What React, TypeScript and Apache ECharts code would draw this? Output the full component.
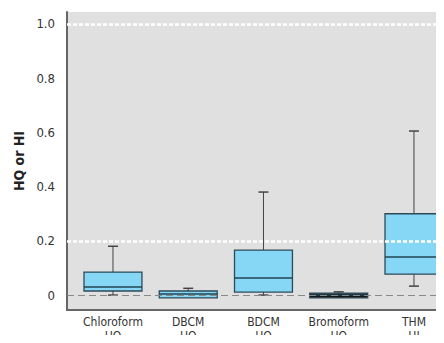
import React, { useEffect, useRef } from "react";
import * as echarts from "echarts";

const categories = ["Chloroform\nHQ", "DBCM\nHQ", "BDCM\nHQ", "Bromoform\nHQ", "THM\nHI"];
const mins = [0.0, 0.0, 0.0, -0.008, 0.033];
const q1s = [0.015, -0.01, 0.011, -0.01, 0.077];
const medians = [0.03, 0.004, 0.063, 0.0, 0.14];
const q3s = [0.085, 0.015, 0.166, 0.007, 0.3];
const maxs = [0.18, 0.025, 0.38, 0.012, 0.605];
const boxColors = ["#86d6f6", "#86d6f6", "#86d6f6", "#151515", "#86d6f6"];
const tickValues = [0, 0.2, 0.4, 0.6, 0.8, 1.0];
const tickLabels = ["0", "0.2", "0.4", "0.6", "0.8", "1.0"];
const refLines = [1.0, 0.2];
const zeroLine = 0;

const FONT = '"Liberation Sans Narrow", "DejaVu Sans Condensed", "Arial Narrow", sans-serif';

export default function App() {
  const ref = useRef<HTMLDivElement>(null);
  useEffect(() => {
    if (!ref.current) return;
    const chart = echarts.init(ref.current, null, { renderer: "svg" });
    const data = categories.map((_, i) => [i + 1, mins[i], q1s[i], medians[i], q3s[i], maxs[i]]);
    chart.setOption({
      animation: false,
      grid: {
        left: 67,
        right: 0,
        top: 12,
        bottom: 33,
        show: true,
        backgroundColor: "#e0e0e0",
        borderWidth: 0,
        containLabel: false,
        outerBoundsMode: "none",
      },
      xAxis: {
        type: "value",
        min: 0.389,
        max: 5.399,
        splitLine: { show: false },
        axisTick: { show: false },
        axisLine: { show: true, onZero: false, lineStyle: { color: "#666", width: 2 } },
        axisLabel: {
          color: "#333",
          fontFamily: FONT,
          fontSize: 12,
          lineHeight: 14,
          margin: 5,
          showMinLabel: false,
          showMaxLabel: false,
          formatter: (v: number) => {
            const r = Math.round(v);
            if (Math.abs(v - r) > 1e-6 || r < 1 || r > categories.length) return "";
            return categories[r - 1];
          },
        },
      },
      yAxis: {
        type: "value",
        min: -0.055,
        max: 1.044,
        name: "HQ or HI",
        nameLocation: "middle",
        nameGap: 39,
        nameTextStyle: { fontFamily: FONT, fontSize: 14, fontWeight: "bold", color: "#222" },
        splitLine: { show: false },
        axisTick: { show: false },
        axisLine: { show: true, onZero: false, lineStyle: { color: "#666", width: 2 } },
        axisLabel: {
          color: "#333",
          fontFamily: FONT,
          fontSize: 13,
          margin: 12,
          formatter: (v: number) => {
            const i = tickValues.findIndex((t) => Math.abs(t - v) < 1e-6);
            return i >= 0 ? tickLabels[i] : "";
          },
        },
      },
      series: [
        {
          type: "custom",
          data,
          encode: { x: 0, y: [1, 2, 3, 4, 5] },
          renderItem: (params: any, api: any) => {
            const x = api.value(0);
            const idx = params.dataIndex;
            const pMin = api.coord([x, api.value(1)]);
            const pQ1 = api.coord([x, api.value(2)]);
            const pMed = api.coord([x, api.value(3)]);
            const pQ3 = api.coord([x, api.value(4)]);
            const pMax = api.coord([x, api.value(5)]);
            const w = api.size([0.77, 0])[0];
            const cx = pMed[0];
            const cap = 5;
            const lineStyle = { stroke: "#444", lineWidth: 1 };
            return {
              type: "group",
              children: [
                { type: "line", shape: { x1: cx, y1: pQ3[1], x2: cx, y2: pMax[1] }, style: lineStyle },
                { type: "line", shape: { x1: cx - cap, y1: pMax[1], x2: cx + cap, y2: pMax[1] }, style: { stroke: "#444", lineWidth: 1.5 } },
                { type: "line", shape: { x1: cx, y1: pQ1[1], x2: cx, y2: pMin[1] }, style: lineStyle },
                { type: "line", shape: { x1: cx - cap, y1: pMin[1], x2: cx + cap, y2: pMin[1] }, style: { stroke: "#444", lineWidth: 1.5 } },
                {
                  type: "rect",
                  shape: { x: cx - w / 2, y: pQ3[1], width: w, height: pQ1[1] - pQ3[1] },
                  style: { fill: boxColors[idx], stroke: "#2c4a58", lineWidth: 1.3 },
                },
                { type: "line", shape: { x1: cx - w / 2, y1: pMed[1], x2: cx + w / 2, y2: pMed[1] }, style: { stroke: "#1f4552", lineWidth: 1.5 } },
              ],
            };
          },
          markLine: {
            silent: true,
            symbol: "none",
            label: { show: false },
            data: [
              ...refLines.map((v) => ({ yAxis: v, lineStyle: { color: "#ffffff", width: 2.5, type: [4, 2] } })),
              { yAxis: zeroLine, lineStyle: { color: "#888", width: 1, type: [7, 4] } },
            ],
          },
          z: 2,
        },
      ],
    });
    return () => chart.dispose();
  }, []);
  return <div ref={ref} style={{ width: 444, height: 343, margin: -8 }} />;
}
